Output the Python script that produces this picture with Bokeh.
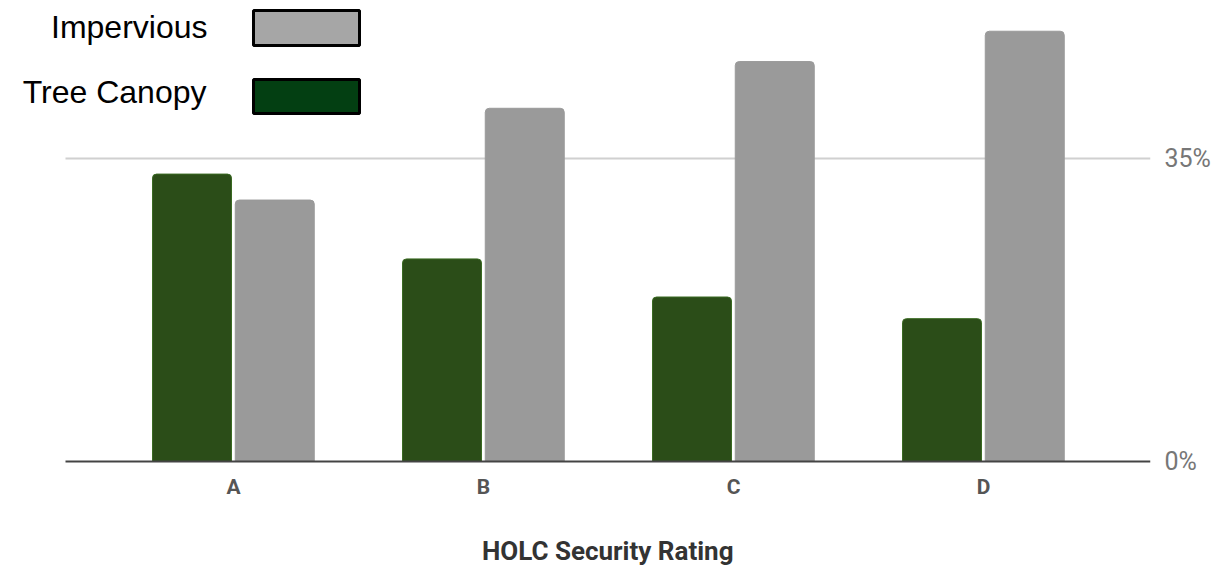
from bokeh.plotting import figure
from bokeh.models import Range1d, FixedTicker, LinearAxis, Title
from bokeh.core.properties import value
from bokeh.embed import file_html
from bokeh.resources import INLINE

categories = ["A", "B", "C", "D"]
tree_canopy = [33.2, 23.4, 19.0, 16.5]
impervious = [30.2, 40.8, 46.2, 49.7]
y_ticks = [0, 35]
y_tick_labels = ["0%", "35%"]
legend_labels = ["Impervious", "Tree Canopy"]
legend_colors = ["#a6a6a6", "#033f12"]
x_title = "HOLC Security Rating"

W, H = 1218, 568
GRID_LEFT, FRAME_RIGHT, FRAME_BOTTOM = 65, 1150, 463
# pixel helpers (canvas coords) -> data, for layout-only elements
X0_PX, X_UNIT = 233.0, 250.0
Y0_PX, Y_UNIT = 461.0, 303.0 / 35.0
def dx(px):
    return (px - X0_PX) / X_UNIT
def dy(py):
    return (Y0_PX - py) / Y_UNIT

p = figure(width=W, height=H, output_backend="svg", toolbar_location=None,
           x_range=Range1d(dx(0), dx(FRAME_RIGHT)),
           y_range=Range1d(dy(FRAME_BOTTOM), dy(0)),
           min_border_left=0, min_border_top=0, min_border_right=W - FRAME_RIGHT,
           min_border_bottom=H - FRAME_BOTTOM, y_axis_location=None)
p.outline_line_color = None
p.xgrid.visible = False
p.ygrid.visible = False
p.background_fill_color = "white"
p.border_fill_color = "white"

xs = list(range(len(categories)))
line_x0, line_x1 = dx(GRID_LEFT), dx(FRAME_RIGHT)
p.segment(x0=[line_x0], x1=[line_x1], y0=[y_ticks[1]], y1=[y_ticks[1]],
          line_color="#d0d0d0", line_width=2)

bw = 0.316
p.vbar(x=[x - 0.166 for x in xs], top=tree_canopy, bottom=0, width=bw,
       fill_color="#2b4d18", line_color="#3a6a22", line_width=1, border_radius=(4, 4, 0, 0))
p.vbar(x=[x + 0.165 for x in xs], top=impervious, bottom=0, width=bw,
       fill_color="#9a9a9a", line_color="#9a9a9a", line_width=1, border_radius=(4, 4, 0, 0))

p.segment(x0=[line_x0], x1=[line_x1], y0=[0], y1=[0], line_color="#444444", line_width=2)

xa = p.xaxis[0]
xa.ticker = FixedTicker(ticks=xs)
xa.major_label_overrides = {i: c for i, c in enumerate(categories)}
xa.axis_line_color = None
xa.major_tick_line_color = None
xa.minor_tick_line_color = None
xa.major_label_standoff = 5
xa.major_label_text_font = "Roboto"
xa.major_label_text_font_style = "bold"
xa.major_label_text_font_size = "21px"
xa.major_label_text_color = "#555555"
# blank spacer label to push the title down
xa.axis_label = " "
xa.axis_label_text_font_size = "1px"
xa.axis_label_standoff = 26

# axis title, right-aligned so that it is centred under the gridded area
p.add_layout(Title(text=x_title, align="right", offset=FRAME_RIGHT - 733,
                   text_font="Roboto", text_font_style="bold", text_font_size="26px",
                   text_color="#333333", standoff=4), "below")

ya = LinearAxis(ticker=FixedTicker(ticks=y_ticks),
                major_label_overrides={t: l for t, l in zip(y_ticks, y_tick_labels)})
ya.axis_line_color = None
ya.major_tick_line_color = None
ya.minor_tick_line_color = None
ya.major_label_standoff = 8
ya.major_label_text_font = "Roboto"
ya.major_label_text_font_size = "25px"
ya.major_label_text_color = "#777777"
p.add_layout(ya, "right")

box_tops = [10, 79]
box_bottoms = [45, 113]
p.quad(left=[dx(253)] * 2, right=[dx(359)] * 2,
       top=[dy(t) for t in box_tops], bottom=[dy(b) for b in box_bottoms],
       fill_color=legend_colors, line_color="black", line_width=3)
p.text(x=[dx(207), dx(206)], y=[dy(26), dy(91)], text=legend_labels,
       text_align="right", text_baseline="middle",
       text_font=value("Liberation Sans"), text_font_size="32px", text_color="black")

open("out.html", "w").write(file_html(p, INLINE))
